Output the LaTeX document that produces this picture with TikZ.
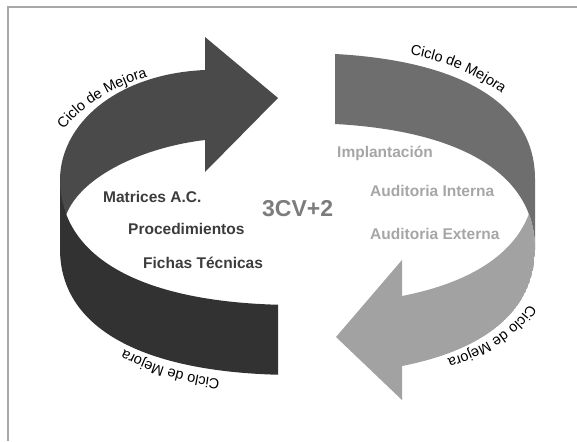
\documentclass[tikz,border=0pt]{standalone}
\usepackage{fontspec}
\setmainfont{Liberation Sans}
\usetikzlibrary{decorations.text}
\definecolor{darkA}{HTML}{4A4A4A}
\definecolor{darkB}{HTML}{323232}
\definecolor{midC}{HTML}{6E6E6E}
\definecolor{lightD}{HTML}{A2A2A2}
\definecolor{frameC}{HTML}{A8A8A8}
\definecolor{txtL}{HTML}{3C3C3C}
\definecolor{txtM}{HTML}{7C7C7C}
\definecolor{txtR}{HTML}{A6A6A6}
\newcommand\cfont{\fontsize{14.5}{16}\selectfont}
\def\Tpath{(297.5,-53) .. controls (449.5,-53) and (535,-98.4) .. (535,-179) .. controls (535,-259.6) and (449.5,-305) .. (297.5,-305) .. controls (145.5,-305) and (60,-259.6) .. (60,-179) .. controls (60,-98.4) and (145.5,-53) .. (297.5,-53) -- cycle}
\def\Bpath{(297.5,-123) .. controls (449.5,-123) and (535,-168.4) .. (535,-249) .. controls (535,-329.6) and (449.5,-375) .. (297.5,-375) .. controls (145.5,-375) and (60,-329.6) .. (60,-249) .. controls (60,-168.4) and (145.5,-123) .. (297.5,-123) -- cycle}
\def\Spath{(297.5,-53) .. controls (449.5,-53) and (535,-98.4) .. (535,-179) -- (535,-249) .. controls (535,-329.6) and (449.5,-375) .. (297.5,-375) .. controls (145.5,-375) and (60,-329.6) .. (60,-249) -- (60,-179) .. controls (60,-98.4) and (145.5,-53) .. (297.5,-53) -- cycle}
\tikzset{
  lbl/.style={inner sep=0pt, anchor=base west, font=\fontsize{15.5}{18}\selectfont\bfseries},
  ciclo/.style={decorate, decoration={text along path, text={|\cfont|Ciclo de Mejora}, text align=left}}
}
\begin{document}
\begin{tikzpicture}[x=1pt,y=1pt]
\useasboundingbox (0,0) rectangle (577,-441);
\fill[white] (0,0) rectangle (577,-441);
\draw[frameC, line width=1.5pt] (8,-441) -- (8,-7) -- (577,-7);

% left arrow, upper (back) part with head
\fill[darkA] (60,-230) -- (60,-180) .. controls (60,-125) and (115,-74) .. (205,-70)
  -- (205,-37) -- (278,-98) -- (205,-172) -- (205,-140)
  .. controls (145,-147) and (82,-175) .. (66.3,-214.4) -- (63,-230) -- cycle;
% left arrow, lower (front) part
\begin{scope}
  \clip (0,-176) rectangle (278,-441);
  \fill[darkB, even odd rule] \Spath \Tpath;
\end{scope}
% right band, upper part
\begin{scope}
  \clip (335,0) rectangle (577,-250);
  \fill[midC, even odd rule] \Spath \Bpath;
\end{scope}
% right arrow, lower part with head
\begin{scope}
  \clip (402,-176) rectangle (577,-441);
  \clip \Bpath;
  \fill[lightD, even odd rule] \Spath \Tpath;
\end{scope}
\fill[lightD] (402,-260) -- (336,-337) -- (402,-400) -- cycle;

% curved labels
\path[ciclo] (64,-130) .. controls (78,-110) and (110,-86) .. (158,-74);
\path[ciclo] (410,-55) .. controls (442,-60) and (480,-75) .. (510,-100);
\path[ciclo] (220,-379) .. controls (185,-375) and (150,-365) .. (116,-345);
\path[ciclo] (529,-304) .. controls (515,-328) and (480,-352) .. (433,-363);

% texts
\node[lbl, txtL] (matrices) at (103,-202) {Matrices A.C.};
\node[lbl, txtL] (proced) at (128,-234) {Procedimientos};
\node[lbl, txtL] (fichas) at (143,-268) {Fichas Técnicas};
\node[lbl, txtM, font=\fontsize{23}{26}\selectfont\bfseries] (cv) at (262,-216) {3CV+2};
\node[lbl, txtR] (implant) at (337,-157) {Implantación};
\node[lbl, txtR] (audint) at (370,-196) {Auditoria Interna};
\node[lbl, txtR] (audext) at (370,-239) {Auditoria Externa};
\end{tikzpicture}
\end{document}
